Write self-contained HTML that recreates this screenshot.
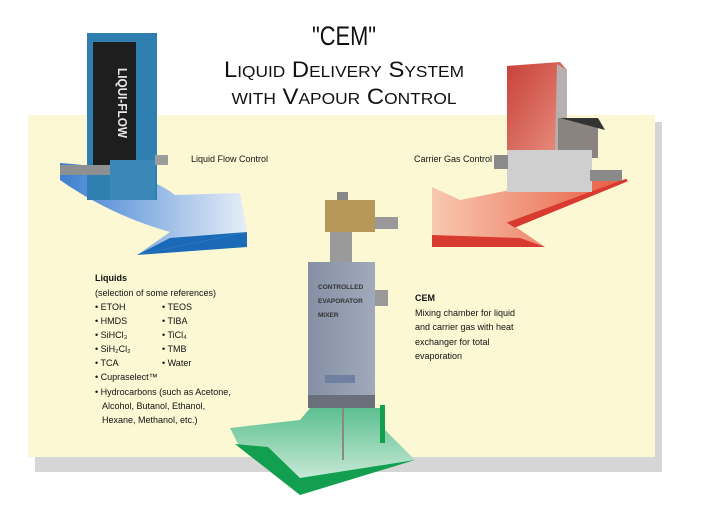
<!DOCTYPE html>
<html><head><meta charset="utf-8"><style>
body{margin:0;background:#fff;width:701px;height:509px;overflow:hidden}
svg{position:absolute;left:0;top:0}
text{font-family:"Liberation Sans Narrow","Liberation Sans",sans-serif;fill:#111}
</style></head><body>
<svg width="701" height="509" viewBox="0 0 701 509">
<defs>
<linearGradient id="bl" x1="0" y1="0" x2="1" y2="0"><stop offset="0" stop-color="#3d7fd0"/><stop offset="1" stop-color="#e6eef8"/></linearGradient>
<linearGradient id="rd" x1="1" y1="0" x2="0" y2="0"><stop offset="0" stop-color="#e85a40"/><stop offset="1" stop-color="#f8c8b0"/></linearGradient>
<linearGradient id="gr" x1="0" y1="0" x2="0" y2="1"><stop offset="0" stop-color="#5cc090"/><stop offset="1" stop-color="#e0f2e6"/></linearGradient>
<linearGradient id="cem" x1="0" y1="0" x2="1" y2="0"><stop offset="0" stop-color="#8590a5"/><stop offset="1" stop-color="#a0aabb"/></linearGradient>
<linearGradient id="rdev" x1="0" y1="0" x2="1" y2="1"><stop offset="0" stop-color="#c84038"/><stop offset="1" stop-color="#e89080"/></linearGradient>
</defs>
<rect x="35" y="122" width="627" height="350" fill="#d6d6d6"/>
<rect x="28" y="115" width="627" height="342" fill="#fcf8d4"/>
<!-- blue arrow -->
<path d="M60 163 Q140 168 175 195 L240 193 L247 232 L137 255 L170 232 Q110 215 60 180 Z" fill="url(#bl)"/>
<path d="M137 255 L247 232 L247 247 Z" fill="#1a6ab8"/>
<path d="M137 255 L170 238 L247 232 Z" fill="#1a6ab8"/>
<!-- red arrow -->
<path d="M432 187 L460 200 Q520 188 560 180 L627 180 L510 223 L545 247 L432 247 Z" fill="url(#rd)"/>
<path d="M627 180 L510 223 L515 226 Z" fill="#d83a30" stroke="#d83a30" stroke-width="3"/>
<path d="M432 235 L520 238 L545 247 L432 247 Z" fill="#d83a30"/>
<!-- green arrow -->
<path d="M230 428 L300 420 L310 408 L380 408 L385 430 L415 460 L300 495 L240 448 Z" fill="url(#gr)"/>
<path d="M235 444 L268 447 L300 478 L415 460 L300 495 Z" fill="#12a050"/>
<rect x="380" y="405" width="5" height="38" fill="#12a050"/>
<!-- blue device -->
<rect x="87" y="33" width="70" height="167" fill="#2f7fb0"/>
<rect x="93" y="42" width="43" height="123" fill="#1e1e1e"/>
<rect x="110" y="160" width="45" height="40" fill="#3a88b8"/>
<rect x="60" y="165" width="50" height="10" fill="#8c9090"/>
<rect x="155" y="155" width="13" height="10" fill="#9a9e9e"/>
<text transform="translate(118,68) rotate(90)" font-size="13" font-weight="bold" style="fill:#e8e8e8" textLength="70" lengthAdjust="spacingAndGlyphs">LIQUI-FLOW</text>
<!-- red device -->
<path d="M507 66 L560 62 L567 70 L567 150 L507 150 Z" fill="url(#rdev)"/>
<path d="M557 64 L567 70 L567 150 L555 150 Z" fill="#b8b0b0"/>
<rect x="558" y="118" width="40" height="40" fill="#8a8480"/>
<path d="M560 118 L605 130 L598 118 Z" fill="#333"/>
<rect x="507" y="150" width="85" height="42" fill="#cfcfcf"/>
<rect x="494" y="155" width="14" height="14" fill="#8a8a8a"/>
<rect x="590" y="170" width="32" height="11" fill="#8a8a8a"/>
<!-- CEM device -->
<rect x="337" y="192" width="11" height="10" fill="#888"/>
<rect x="325" y="200" width="50" height="32" fill="#b89858"/>
<rect x="375" y="217" width="23" height="12" fill="#999"/>
<rect x="330" y="232" width="22" height="30" fill="#9a9a9a"/>
<rect x="308" y="262" width="67" height="133" fill="url(#cem)"/>
<rect x="308" y="395" width="67" height="13" fill="#6a707a"/>
<rect x="375" y="290" width="13" height="16" fill="#999"/>
<rect x="342" y="408" width="2" height="52" fill="#888"/>
<rect x="325" y="375" width="30" height="8" fill="#7080a0"/>
<text x="318" y="289" font-size="6.5" font-weight="bold" style="fill:#333">CONTROLLED</text>
<text x="318" y="303" font-size="6.5" font-weight="bold" style="fill:#333">EVAPORATOR</text>
<text x="318" y="317" font-size="6.5" font-weight="bold" style="fill:#333">MIXER</text>
<!-- title -->
<text x="344" y="45" font-size="27" text-anchor="middle" textLength="64" lengthAdjust="spacingAndGlyphs">"CEM"</text>
<text x="344" y="77" font-size="22" text-anchor="middle" textLength="240" lengthAdjust="spacingAndGlyphs">L<tspan font-size="16">IQUID</tspan> D<tspan font-size="16">ELIVERY</tspan> S<tspan font-size="16">YSTEM</tspan></text>
<text x="344" y="104" font-size="22" text-anchor="middle" textLength="225" lengthAdjust="spacingAndGlyphs"><tspan font-size="16">WITH</tspan> V<tspan font-size="16">APOUR</tspan> C<tspan font-size="16">ONTROL</tspan></text>
<g font-size="9">
<text x="191" y="162">Liquid Flow Control</text>
<text x="414" y="162">Carrier Gas Control</text>
<text x="95" y="281" font-weight="bold">Liquids</text>
<text x="95" y="296">(selection of some references)</text>
<text x="95" y="310">• ETOH</text><text x="162" y="310">• TEOS</text>
<text x="95" y="324">• HMDS</text><text x="162" y="324">• TIBA</text>
<text x="95" y="338">• SiHCl₃</text><text x="162" y="338">• TiCl₄</text>
<text x="95" y="352">• SiH₂Cl₂</text><text x="162" y="352">• TMB</text>
<text x="95" y="366">• TCA</text><text x="162" y="366">• Water</text>
<text x="95" y="380">• Cupraselect™</text>
<text x="95" y="395">• Hydrocarbons (such as Acetone,</text>
<text x="102" y="409">Alcohol, Butanol, Ethanol,</text>
<text x="102" y="423">Hexane, Methanol, etc.)</text>
<text x="415" y="301" font-weight="bold">CEM</text>
<text x="415" y="316">Mixing chamber for liquid</text>
<text x="415" y="330">and carrier gas with heat</text>
<text x="415" y="345">exchanger for total</text>
<text x="415" y="359">evaporation</text>
</g>
</svg>
</body></html>
